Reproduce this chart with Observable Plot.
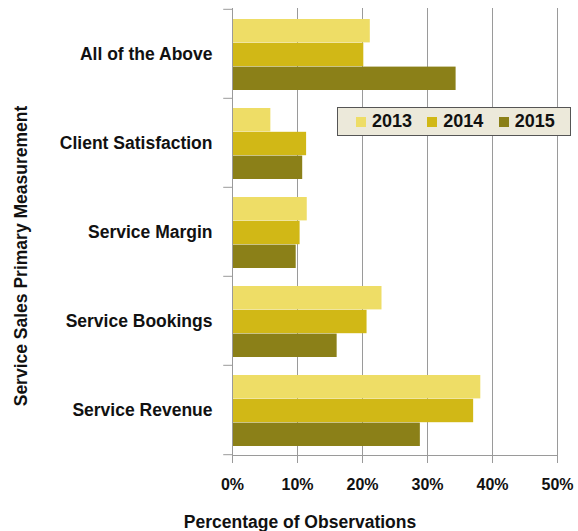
<!DOCTYPE html>
<html>
<head>
<meta charset="utf-8">
<script src="https://cdn.jsdelivr.net/npm/d3@7"></script>
<script src="https://cdn.jsdelivr.net/npm/@observablehq/plot@0.6"></script>
<style>
  html, body { margin: 0; padding: 0; background: #fff; }
  #wrap { position: relative; width: 578px; height: 531px; font-family: "Liberation Sans", Arial, sans-serif; color: #111; }
  #caption { position: absolute; left: 0; top: 500px; width: 578px; padding-left: 22px; box-sizing: border-box; text-align: center; font-weight: bold; font-size: 17.5px; line-height: 18px; margin-top: 13px; }
  #legend { position: absolute; left: 337px; top: 107px; width: 234px; height: 29px; background: #ECE9DA; border: 1px solid #555; box-sizing: border-box; display: flex; align-items: center; padding-left: 18px; }
  #legend .item { display: flex; align-items: center; width: 75px; font-weight: bold; font-size: 18px; }
  #legend .sw { width: 10px; height: 10px; margin-right: 6px; }
</style>
</head>
<body>
<div id="wrap"></div>
<script>
const categories = ["All of the Above", "Client Satisfaction", "Service Margin", "Service Bookings", "Service Revenue"];
const years = ["2013", "2014", "2015"];
const values2013 = [21.2, 5.9, 11.5, 23.0, 38.2];
const values2014 = [20.2, 11.4, 10.4, 20.7, 37.1];
const values2015 = [34.4, 10.8, 9.8, 16.1, 28.9];
const xTicks = [0, 10, 20, 30, 40, 50];
const yearColors = ["#EEDD66", "#D1B816", "#8B8018"];
const xTitle = "Percentage of Observations";
const yTitle = "Service Sales Primary Measurement";

const series = [values2013, values2014, values2015];
const data = [];
years.forEach((yr, i) => categories.forEach((c, j) => data.push({year: yr, category: c, value: series[i][j]})));

const width = 578, height = 500;
const marginTop = 8, marginBottom = 45, marginLeft = 232, marginRight = 21;
const band = (height - marginTop - marginBottom) / categories.length;
const padTop = 10, padBottom = 8;
const barH = (band - padTop - padBottom) / years.length;
const grey = "#9a9a9a";

const barMarks = years.map((yr, i) => Plot.barX(data.filter(d => d.year === yr), {
  x: "value", y: "category", fill: "year",
  insetTop: padTop + i * barH,
  insetBottom: padBottom + (years.length - 1 - i) * barH
}));

const chart = Plot.plot({
  width, height, marginTop, marginBottom, marginLeft, marginRight,
  style: {fontFamily: "'Liberation Sans', Arial, sans-serif", fontSize: "16px", fontWeight: "bold", color: "#111", background: "#fff"},
  x: {domain: [0, 50], label: null},
  y: {domain: categories, padding: 0, label: null},
  color: {domain: years, range: yearColors},
  marks: [
    Plot.gridX(xTicks.slice(1), {stroke: grey, strokeOpacity: 1}),
    ...barMarks,
    Plot.ruleX([0], {stroke: grey}),
    Plot.frame({anchor: "bottom", stroke: grey}),
    Plot.ruleY(categories, {y: d => d, x1: -1.35, x2: 0, dy: -band / 2, stroke: grey}),
    Plot.ruleY(categories.slice(-1), {y: d => d, x1: -1.35, x2: 0, dy: band / 2, stroke: grey}),
    Plot.axisX(xTicks, {tickSize: 8, tickPadding: 15, tickFormat: d => d + "%", stroke: grey, fill: "#111", label: null}),
    Plot.axisY({tickSize: 0, tickPadding: 20, fill: "#111", fontSize: 17.5, label: null}),
    Plot.text([yTitle], {frameAnchor: "left", rotate: -90, textAnchor: "middle", dx: -211, dy: 24, fill: "#111", fontSize: 17.5, fontWeight: "bold"})
  ]
});

const wrap = document.getElementById("wrap");
wrap.appendChild(chart);

const legend = document.createElement("div");
legend.id = "legend";
years.forEach((yr, i) => {
  const item = document.createElement("div");
  item.className = "item";
  const sw = document.createElement("span");
  sw.className = "sw";
  sw.style.background = yearColors[i];
  item.appendChild(sw);
  item.appendChild(document.createTextNode(yr));
  legend.appendChild(item);
});
wrap.appendChild(legend);

const cap = document.createElement("div");
cap.id = "caption";
cap.textContent = xTitle;
wrap.appendChild(cap);
</script>
</body>
</html>
